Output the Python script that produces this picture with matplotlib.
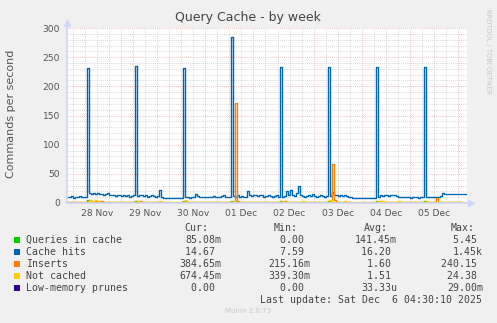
import numpy as np
import matplotlib
matplotlib.use('Agg')
import matplotlib.pyplot as plt

# hourly samples, first one at 27 Nov 21:30, last at 06 Dec 04:30
start = np.datetime64('2025-11-27T21:30')

cache_hits = [
    11, 10, 12, 9, 11, 10, 12, 11, 10, 11,
    232, 17, 15, 18, 16, 17, 15, 16, 14, 15, 17, 13, 14, 13, 12, 14, 13, 12, 13, 12, 14, 11, 12, 13,
    235, 12, 14, 13, 12, 13, 11, 12, 13, 12, 11, 12, 23, 11, 9, 8, 8, 8, 8, 8, 8, 8, 8, 9,
    232, 10, 10, 9, 10, 11, 15, 12, 11, 10, 11, 10, 11, 10, 11, 12, 10, 11, 10, 12, 13, 11, 10, 11,
    285, 12, 11, 13, 11, 12, 10, 11, 20, 13, 12, 14, 13, 12, 14, 13, 11, 12, 13, 12, 11, 12, 13, 11,
    233, 11, 12, 20, 14, 22, 13, 12, 18, 29, 14, 12, 11, 12, 13, 12, 16, 12, 11, 12, 14, 12, 11, 12,
    233, 12, 19, 14, 13, 12, 14, 12, 13, 12, 11, 10, 9, 9, 8, 8, 8, 8, 8, 9, 8, 8, 8, 9,
    233, 11, 13, 12, 14, 13, 12, 13, 14, 13, 12, 11, 10, 11, 10, 10, 10, 9, 10, 10, 10, 9, 10, 10,
    233, 10, 11, 10, 11, 10, 11, 10, 12, 17, 16, 15, 16, 15, 16, 16, 15, 16, 16, 16, 16, 16,
]

inserts = [
    1.2, 1.0, 1.3, 1.1, 1.0, 1.2, 1.1, 1.0, 1.2, 1.3,
    2.0, 5.0, 3.0, 4.0, 3.0, 1.5, 3.0, 4.0, 1.4, 1.2, 1.3, 1.1, 1.0, 1.2, 1.1, 1.0, 1.2, 1.1, 1.0, 1.2, 1.1, 1.0, 1.2, 1.1,
    2.0, 3.0, 4.0, 1.5, 1.2, 1.1, 1.0, 1.2, 1.1, 1.0, 1.2, 1.1, 2.0, 1.2, 1.0, 0.8, 0.8, 0.8, 0.8, 0.8, 0.8, 0.8, 0.8, 0.9,
    2.0, 3.0, 1.5, 1.2, 1.1, 1.0, 2.0, 1.2, 1.1, 1.0, 1.2, 1.1, 1.0, 1.2, 1.1, 1.0, 1.2, 1.1, 1.0, 1.2, 1.5, 1.1, 1.0, 1.2,
    2.0, 2.0, 172.0, 4.0, 1.5, 1.2, 1.1, 1.0, 2.0, 1.2, 1.1, 1.0, 1.2, 1.1, 1.0, 1.2, 1.1, 1.0, 1.2, 1.1, 1.0, 1.2, 1.1, 1.0,
    2.0, 1.5, 3.0, 1.2, 1.5, 1.1, 1.0, 1.2, 2.0, 1.1, 1.0, 1.2, 1.1, 1.0, 1.2, 1.1, 1.0, 1.2, 1.1, 1.0, 1.2, 1.1, 1.0, 1.2,
    2.0, 3.0, 67.0, 5.0, 1.5, 1.2, 1.1, 1.0, 1.2, 1.1, 1.0, 0.9, 0.8, 0.8, 0.8, 0.8, 0.8, 0.8, 0.9, 0.8, 0.8, 0.8, 0.9, 0.8,
    2.0, 1.5, 3.0, 1.2, 1.1, 1.0, 1.2, 1.1, 1.0, 1.2, 1.1, 1.0, 1.2, 1.1, 1.0, 1.2, 1.1, 1.0, 1.2, 1.1, 1.0, 1.2, 1.1, 1.0,
    2.0, 1.2, 1.1, 1.0, 1.2, 1.1, 9.0, 1.5, 1.2, 1.1, 1.0, 1.2, 1.1, 1.0, 1.2, 1.1, 1.0, 1.2, 0.9, 0.6, 0.5, 0.4,
]

not_cached = [
    1.5, 1.4, 1.6, 1.5, 1.3, 1.5, 1.6, 1.4, 1.5, 1.6,
    2.5, 6.0, 4.0, 2.0, 5.0, 3.0, 1.8, 2.0, 1.6, 1.5, 1.7, 1.5, 1.4, 1.6, 1.5, 1.4, 1.6, 1.5, 1.4, 1.6, 1.5, 1.4, 1.6, 1.5,
    2.5, 4.0, 2.0, 1.6, 1.5, 1.4, 1.6, 1.5, 1.4, 1.6, 1.5, 1.4, 3.0, 1.5, 1.4, 1.3, 1.3, 1.3, 1.3, 1.3, 1.3, 1.3, 1.3, 1.4,
    2.5, 5.0, 2.0, 1.6, 1.5, 1.4, 1.6, 1.5, 1.4, 1.6, 1.5, 1.4, 1.6, 1.5, 1.4, 1.6, 1.5, 1.4, 1.6, 1.5, 1.4, 1.6, 1.5, 1.4,
    2.5, 3.0, 2.0, 1.6, 1.5, 1.4, 1.6, 1.5, 1.4, 1.6, 1.5, 1.4, 1.6, 1.5, 1.4, 1.6, 1.5, 1.4, 1.6, 1.5, 1.4, 1.6, 1.5, 1.4,
    2.5, 4.0, 2.0, 1.6, 1.5, 1.4, 1.6, 1.5, 1.4, 1.6, 1.5, 3.0, 1.6, 1.5, 1.4, 1.6, 1.5, 1.4, 1.6, 1.5, 1.4, 1.6, 1.5, 1.4,
    2.5, 5.0, 2.0, 1.6, 1.5, 1.4, 1.6, 1.5, 3.0, 1.6, 1.5, 1.4, 1.3, 1.3, 1.3, 1.3, 1.3, 1.3, 1.4, 1.3, 1.3, 1.3, 1.4, 1.3,
    2.5, 4.0, 2.0, 3.0, 1.5, 1.4, 1.6, 1.5, 1.4, 1.6, 1.5, 3.0, 1.6, 1.5, 1.4, 1.6, 1.5, 1.4, 1.6, 1.5, 1.4, 1.6, 1.5, 1.4,
    2.5, 4.0, 2.0, 1.6, 1.5, 1.4, 1.6, 1.5, 1.4, 1.6, 1.5, 2.0, 1.6, 1.5, 1.4, 1.6, 1.5, 1.4, 1.2, 1.0, 0.8, 0.7,
]

queries_in_cache = [
    0.1, 0.1, 0.1, 0.1, 0.1, 0.1, 0.1, 0.1, 0.1, 0.1,
    5.4, 0.3, 0.2, 0.1, 0.1, 0.1, 0.1, 0.1, 0.1, 0.1, 0.1, 0.1, 0.1, 0.1, 0.1, 0.1, 0.1, 0.1, 0.1, 0.1, 0.1, 0.1, 0.1, 0.1,
    4.0, 0.3, 0.2, 0.1, 0.1, 0.1, 0.1, 0.1, 0.1, 0.1, 0.1, 0.1, 0.1, 0.1, 0.1, 0.1, 0.1, 0.1, 0.1, 0.1, 0.1, 0.1, 0.1, 0.1,
    4.0, 0.3, 0.2, 0.1, 0.1, 0.1, 0.1, 0.1, 0.1, 0.1, 0.1, 0.1, 0.1, 0.1, 0.1, 0.1, 0.1, 0.1, 0.1, 0.1, 0.1, 0.1, 0.1, 0.1,
    4.0, 0.3, 3.0, 0.1, 0.1, 0.1, 0.1, 0.1, 0.1, 0.1, 0.1, 0.1, 0.1, 0.1, 0.1, 0.1, 0.1, 0.1, 0.1, 0.1, 0.1, 0.1, 0.1, 0.1,
    4.0, 0.3, 0.2, 0.1, 0.1, 0.1, 0.1, 0.1, 0.1, 0.1, 0.1, 0.1, 0.1, 0.1, 0.1, 0.1, 0.1, 0.1, 0.1, 0.1, 0.1, 0.1, 0.1, 0.1,
    4.0, 0.3, 2.0, 0.1, 0.1, 0.1, 0.1, 0.1, 0.1, 0.1, 0.1, 0.1, 0.1, 0.1, 0.1, 0.1, 0.1, 0.1, 0.1, 0.1, 0.1, 0.1, 0.1, 0.1,
    4.0, 0.3, 0.2, 0.1, 0.1, 0.1, 0.1, 0.1, 0.1, 0.1, 0.1, 0.1, 0.1, 0.1, 0.1, 0.1, 0.1, 0.1, 0.1, 0.1, 0.1, 0.1, 0.1, 0.1,
    4.0, 0.3, 0.2, 0.1, 0.1, 0.1, 0.1, 0.1, 0.1, 0.1, 0.1, 0.1, 0.1, 0.1, 0.1, 0.1, 0.1, 0.1, 0.1, 0.1, 0.1, 0.1,
]

lowmem_prunes = [0.0] * 200

series_names = ['Queries in cache', 'Cache hits', 'Inserts', 'Not cached', 'Low-memory prunes']
series_colors = ['#00cc00', '#0066b3', '#ff8000', '#ffcc00', '#330099']
cur_vals = ['85.08m', '14.67 ', '384.65m', '674.45m', '0.00 ']
min_vals = ['0.00 ', '7.59 ', '215.16m', '339.30m', '0.00 ']
avg_vals = ['141.45m', '16.20 ', '1.60 ', '1.51 ', '33.33u']
max_vals = ['5.45 ', '1.45k', '240.15 ', '24.38 ', '29.00m']
day_labels = ['28 Nov', '29 Nov', '30 Nov', '01 Dec', '02 Dec', '03 Dec', '04 Dec', '05 Dec']

W, H = 497, 323
fig = plt.figure(figsize=(W / 100, H / 100), dpi=100)
fig.patch.set_facecolor('#f0f0f0')

def px(x, y):
    return x / W, 1 - y / H

left, right, top, bottom = 67, 467, 28, 203
ax = fig.add_axes([left / W, 1 - bottom / H, (right - left) / W, (bottom - top) / H])
ax.set_facecolor('#ffffff')

times = start + np.arange(200) * np.timedelta64(1, 'h')
t = list(times.astype('datetime64[s]').astype(object))

all_series = [queries_in_cache, cache_hits, inserts, not_cached, lowmem_prunes]
for vals, col in zip(all_series, series_colors):
    ax.plot(t[:len(vals)], vals, color=col, lw=1.0, drawstyle='steps-mid', zorder=3)

x0 = np.datetime64('2025-11-27T21:00').astype(object)
x1 = np.datetime64('2025-12-06T04:30').astype(object)
ax.set_xlim(x0, x1)
ax.set_ylim(0, 300)

# grid: gray every 6 h / 10 units, red at midnight / 50 units
dot = (0, (1, 1.5))
for h in range(6, 200, 6):
    gx = (np.datetime64('2025-11-27T18:00') + np.timedelta64(h, 'h')).astype(object)
    if gx <= x1:
        c = '#eeaaaa' if (h % 24 == 6) else '#cccccc'
        ax.axvline(gx, color=c, lw=0.6, ls=dot, zorder=1)
for gy in range(10, 301, 10):
    c = '#eeaaaa' if gy % 50 == 0 else '#cccccc'
    ax.axhline(gy, color=c, lw=0.6, ls=dot, zorder=1)

noon = [(np.datetime64('2025-11-28T12:00') + np.timedelta64(d, 'D')).astype(object) for d in range(8)]
ax.set_xticks(noon)
ax.set_xticklabels(day_labels)
ax.set_yticks(range(0, 301, 50))
ax.tick_params(length=0, labelsize=6.6, colors='#555555')
ax.tick_params(axis='y', pad=5)
ax.tick_params(axis='x', pad=4)

for s in ax.spines.values():
    s.set_visible(False)
axis_col = '#cfd6f8'
ax.plot([0, 1.01], [0, 0], transform=ax.transAxes, color=axis_col, lw=1.2, clip_on=False, zorder=4)
ax.plot([0, 0], [0, 1.03], transform=ax.transAxes, color=axis_col, lw=1.2, clip_on=False, zorder=4)
ax.plot([1.01], [0], transform=ax.transAxes, marker='>', ms=4, color=axis_col, clip_on=False)
ax.plot([0], [1.03], transform=ax.transAxes, marker='^', ms=4, color=axis_col, clip_on=False)

fig.text(*px(248, 18), 'Query Cache - by week', ha='center', va='center', fontsize=9, color='#444444')
fig.text(*px(11, 114), 'Commands per second', rotation=90, ha='center', va='center', fontsize=8, color='#555555')
fig.text(*px(488, 52), 'RRDTOOL / TOBI OETIKER', rotation=270, ha='center', va='center', fontsize=4.8, color='#c8c8c8')

mono = 'DejaVu Sans Mono'
fs = 7.1
tc = '#444444'
for xr, hdr in [(208, 'Cur:'), (298, 'Min:'), (388, 'Avg:'), (475, 'Max:')]:
    fig.text(*px(xr, 228), hdr, ha='right', va='center', family=mono, fontsize=fs, color=tc)
for i, name in enumerate(series_names):
    y = 240 + i * 12.1
    fig.patches.append(plt.Rectangle(px(14, y + 3), 6 / W, 6 / H, transform=fig.transFigure,
                                     facecolor=series_colors[i], edgecolor='none'))
    fig.text(*px(26, y), name, ha='left', va='center', family=mono, fontsize=fs, color=tc)
    for xr, col in [(221, cur_vals), (310, min_vals), (397, avg_vals), (483, max_vals)]:
        fig.text(*px(xr, y), col[i], ha='right', va='center', family=mono, fontsize=fs, color=tc)
fig.text(*px(482, 300), 'Last update: Sat Dec  6 04:30:10 2025', ha='right', va='center',
         family=mono, fontsize=fs, color=tc)
fig.text(*px(248, 311), 'Munin 2.0.73', ha='center', va='center', fontsize=5, color='#c8c8c8')

fig.savefig('out.png', dpi=100, facecolor=fig.get_facecolor())
